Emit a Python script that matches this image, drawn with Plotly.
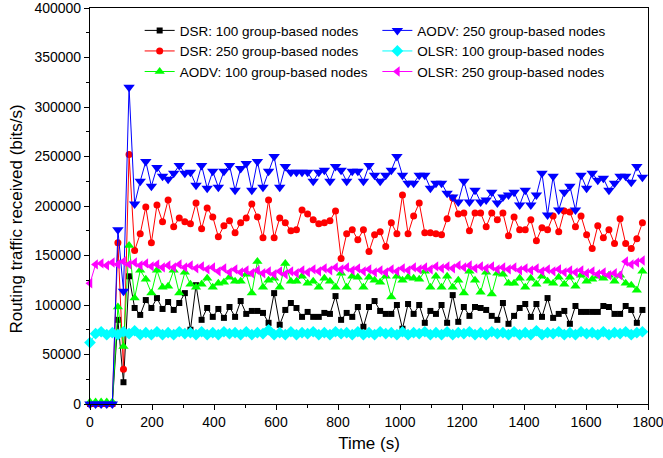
import plotly.graph_objects as go

# time axis (s): one sample every 18 s
time_s = list(range(0, 1800, 18))

dsr_100 = [0, 0, 0, 0, 0,
           85000, 22000, 129000, 97000, 90000, 105000, 97000, 107000, 96000, 103000,
           95000, 102000, 112000, 75000, 120000,
           85000, 97000, 88000, 96000, 87000, 98000, 88000, 104000, 91000, 94000,
           94000, 92000, 82000, 112000, 80000, 95000, 102000, 97000, 88000, 93000,
           88000, 88000, 92000, 91000, 109000,
           85000, 92000, 88000, 98000, 78000, 98000, 104000, 94000, 91000, 91000,
           100000, 76000, 101000, 91000, 100000, 82000, 94000, 91000, 100000, 82000,
           110000, 83000, 98000, 89000, 98000,
           97000, 95000, 89000, 85000, 102000, 81000, 89000, 97000, 101000, 88000,
           101000, 88000, 107000, 87000, 91000, 94000, 81000, 99000, 93000, 93000,
           93000, 93000, 99000, 98000, 91000, 91000, 99000, 95000, 82000, 95000]

dsr_250 = [0, 0, 0, 0, 0,
           163000, 35000, 252000, 155000, 172000, 199000, 163000, 201000, 184000, 206000,
           179000, 188000, 184000, 182000, 203000,
           177000, 198000, 189000, 169000, 180000, 185000, 173000, 183000, 188000, 202000,
           189000, 168000, 206000, 168000, 188000, 183000, 175000, 176000, 196000, 192000,
           186000, 182000, 183000, 185000, 195000,
           147000, 172000, 176000, 166000, 176000, 154000, 171000, 174000, 159000, 183000,
           172000, 211000, 172000, 190000, 203000, 173000, 173000, 172000, 171000, 187000,
           208000, 192000, 193000, 175000, 193000,
           193000, 179000, 193000, 186000, 193000, 170000, 189000, 176000, 176000, 186000,
           165000, 178000, 176000, 190000, 174000, 195000, 194000, 179000, 190000, 171000,
           157000, 180000, 168000, 176000, 162000, 187000, 162000, 157000, 167000, 183000]

aodv_100 = [2000, 2000, 2000, 2000, 2000,
            98000, 58000, 160000, 107000, 135000, 126000, 112000, 135000, 118000, 119000,
            135000, 112000, 133000, 121000, 118000,
            121000, 127000, 118000, 122000, 123000, 128000, 124000, 124000, 131000, 112000,
            144000, 118000, 125000, 127000, 118000, 142000, 124000, 124000, 129000, 122000,
            124000, 118000, 127000, 124000, 118000,
            132000, 118000, 129000, 128000, 118000, 128000, 125000, 123000, 129000, 108000,
            129000, 125000, 128000, 127000, 126000, 134000, 118000, 129000, 118000, 129000,
            118000, 125000, 112000, 134000, 125000,
            113000, 133000, 111000, 132000, 131000, 122000, 122000, 127000, 118000, 127000,
            121000, 129000, 124000, 122000, 128000, 121000, 128000, 119000, 130000, 124000,
            126000, 129000, 127000, 130000, 124000, 130000, 122000, 120000, 115000, 134000]

aodv_250 = [0, 0, 0, 0, 0,
            176000, 114000, 320000, 202000, 225000, 245000, 220000, 239000, 230000, 227000,
            233000, 241000, 233000, 234000, 221000,
            241000, 218000, 235000, 219000, 235000, 241000, 216000, 238000, 243000, 216000,
            245000, 219000, 235000, 250000, 219000, 240000, 234000, 234000, 234000, 234000,
            225000, 234000, 236000, 225000, 240000,
            236000, 225000, 235000, 235000, 225000, 241000, 231000, 225000, 231000, 236000,
            250000, 231000, 223000, 223000, 231000, 231000, 218000, 223000, 223000, 213000,
            209000, 204000, 225000, 204000, 216000,
            204000, 206000, 214000, 203000, 209000, 211000, 214000, 201000, 216000, 201000,
            211000, 233000, 191000, 230000, 196000, 214000, 220000, 196000, 231000, 218000,
            233000, 226000, 228000, 216000, 223000, 230000, 230000, 224000, 240000, 229000]

olsr_100 = [62000, 71000, 73000, 70000, 72000, 70000, 73000, 71000, 74000, 70000,
            72000, 70000, 73000, 70000, 72000, 70000, 73000, 71000, 72000, 70000,
            73000, 70000, 72000, 70000, 73000, 71000, 72000, 70000, 73000, 70000,
            72000, 71000, 75000, 70000, 72000, 70000, 73000, 70000, 72000, 71000,
            73000, 70000, 72000, 70000, 73000, 71000, 72000, 70000, 73000, 70000,
            72000, 70000, 73000, 71000, 72000, 70000, 73000, 70000, 72000, 71000,
            73000, 70000, 72000, 70000, 73000, 70000, 72000, 71000, 73000, 70000,
            72000, 70000, 73000, 71000, 72000, 70000, 73000, 70000, 72000, 70000,
            74000, 70000, 72000, 71000, 73000, 70000, 72000, 70000, 73000, 71000,
            72000, 70000, 73000, 70000, 72000, 71000, 73000, 70000, 72000, 73000]

olsr_250 = [122000, 141000, 142000, 140000, 143000, 141000, 144000, 141000, 143000, 140000,
            142000, 139000, 141000, 138000, 140000, 138000, 141000, 138000, 140000, 137000,
            139000, 136000, 138000, 134000, 137000, 133000, 136000, 133000, 135000, 132000,
            135000, 132000, 134000, 131000, 134000, 131000, 134000, 132000, 135000, 133000,
            136000, 134000, 137000, 135000, 138000, 136000, 138000, 135000, 137000, 134000,
            136000, 133000, 135000, 133000, 136000, 134000, 137000, 135000, 138000, 136000,
            138000, 136000, 139000, 137000, 139000, 137000, 140000, 138000, 140000, 137000,
            139000, 137000, 139000, 136000, 138000, 136000, 138000, 135000, 137000, 135000,
            137000, 134000, 136000, 134000, 136000, 133000, 135000, 133000, 135000, 132000,
            134000, 131000, 133000, 130000, 132000, 130000, 144000, 141000, 143000, 145000]

series = [
    ("DSR: 100 group-based nodes", dsr_100, "#000000", "square", 6, "legend"),
    ("DSR: 250 group-based nodes", dsr_250, "#FF0000", "circle", 7, "legend"),
    ("AODV: 100 group-based nodes", aodv_100, "#00FF00", "triangle-up", 9, "legend"),
    ("AODV: 250 group-based nodes", aodv_250, "#0000FF", "triangle-down", 10, "legend2"),
    ("OLSR: 100 group-based nodes", olsr_100, "#00FFFF", "diamond", 9, "legend2"),
    ("OLSR: 250 group-based nodes", olsr_250, "#FF00FF", "triangle-left", 9, "legend2"),
]

fig = go.Figure()
for name, vals, color, sym, size, lg in series:
    fig.add_trace(go.Scatter(
        x=time_s, y=vals, name=name, mode="lines+markers",
        line=dict(color=color, width=1),
        marker=dict(symbol=sym, size=size, color=color, line=dict(width=0)),
        cliponaxis=False, legend=lg,
    ))

FONT = "Liberation Sans, Arial, sans-serif"
axis_common = dict(
    showline=True, linecolor="#000000", linewidth=1.2, mirror=True,
    ticks="outside", ticklen=5, tickwidth=1, tickcolor="#000000",
    showgrid=False, zeroline=False, ticklabeloverflow="allow", automargin=False,
    tickfont=dict(family=FONT, size=14, color="#000000"),
)

fig.update_layout(
    width=663, height=458,
    margin=dict(l=90, r=15, t=8, b=54),
    paper_bgcolor="white", plot_bgcolor="white",
    font=dict(family=FONT, color="#000000"),
    xaxis=dict(range=[0, 1800], tick0=0, dtick=200,
               minor=dict(dtick=100, ticks="outside", ticklen=3, tickcolor="#000000"),
               title=dict(text="Time (s)", font=dict(family=FONT, size=17), standoff=8),
               **axis_common),
    yaxis=dict(range=[0, 400000], tick0=0, dtick=50000, tickformat="d",
               minor=dict(dtick=25000, ticks="outside", ticklen=3, tickcolor="#000000"),
               **axis_common),
    legend=dict(x=0.089, y=0.982, xanchor="left", yanchor="top",
                bgcolor="rgba(0,0,0,0)", itemwidth=30,
                font=dict(family=FONT, size=13.5, color="#000000")),
    legend2=dict(x=0.515, y=0.982, xanchor="left", yanchor="top",
                 bgcolor="rgba(0,0,0,0)", itemwidth=30,
                 font=dict(family=FONT, size=13.5, color="#000000")),
    showlegend=True,
    annotations=[dict(
        text="Routing traffic received (bits/s)", textangle=-90,
        xref="paper", yref="paper", x=-0.1317, y=0.467,
        xanchor="center", yanchor="middle", showarrow=False,
        font=dict(family=FONT, size=17, color="#000000"),
    )],
)

fig.write_html("out.html")
